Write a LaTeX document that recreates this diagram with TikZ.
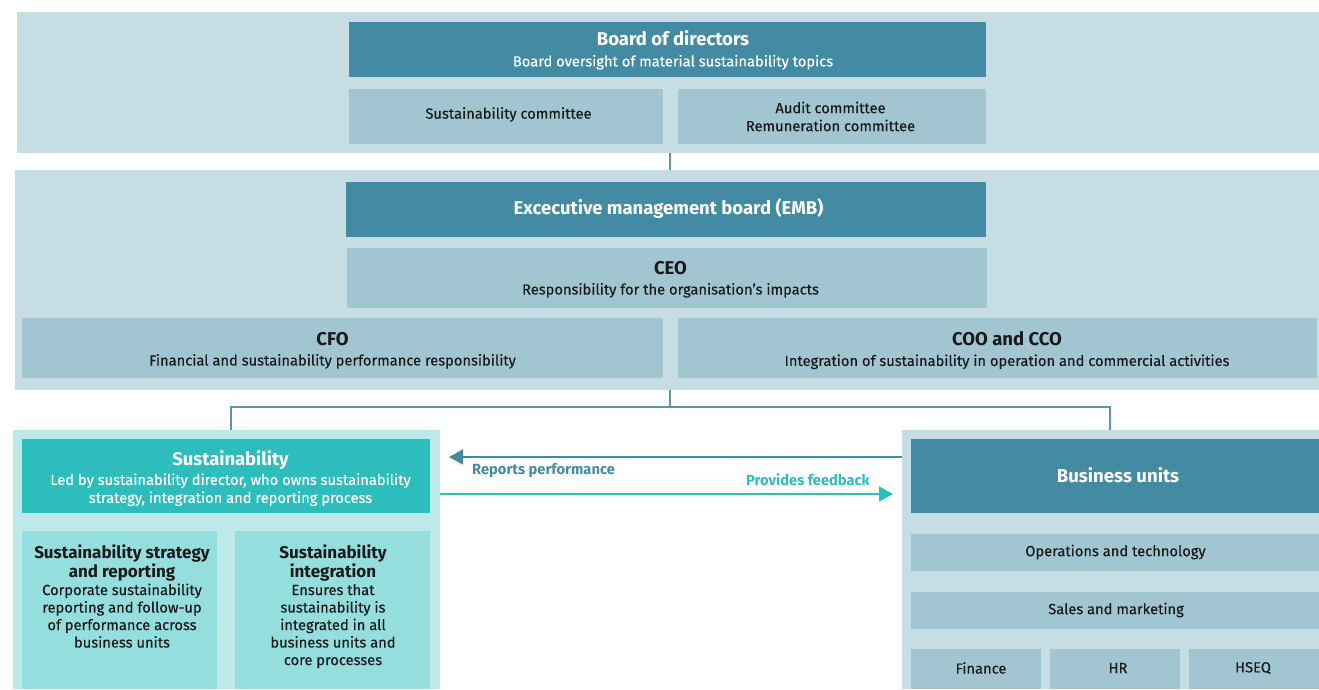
\documentclass[tikz,border=0pt]{standalone}
\usepackage{fontspec}
\setmainfont{Fira Sans}[UprightFeatures={FakeBold=0.3}]
\usetikzlibrary{arrows.meta}
\definecolor{dk}{HTML}{438BA3}
\definecolor{md}{HTML}{A2C6D1}
\definecolor{lt}{HTML}{C6DEE3}
\definecolor{tl}{HTML}{2EBDBD}
\definecolor{ltl}{HTML}{BEE9E9}
\definecolor{mtl}{HTML}{95DEDE}
\definecolor{txt}{HTML}{1A1A1A}
\tikzset{
  bx/.style n args={2}{draw=none,inner sep=0pt,minimum width=#1pt,minimum height=#2pt},
  panel/.style={fill=lt},
  darkbox/.style={fill=dk},
  midbox/.style={fill=md},
  tpanel/.style={fill=ltl},
  tbox/.style={fill=mtl},
  conn/.style={draw=dk!90,line width=1.3pt},
  tx/.style={inner sep=0pt,align=center,text=txt,font=\fontsize{14.7}{#1}\selectfont},
  wtx/.style={tx=#1,text=white},
  subtxt/.style={anchor=north,inner sep=0pt,align=center,text=txt,font=\fontsize{14.7}{17.5}\selectfont},
}
\newcommand\ttl[1]{{\bfseries\fontsize{18.5}{20}\selectfont #1}}
\newcommand\stl[1]{{\bfseries\fontsize{17}{20}\selectfont #1}}
\begin{document}
\begin{tikzpicture}[x=1pt,y=-1pt]
\useasboundingbox (0,0) rectangle (1319,689);
% top panel
\node[bx={1302}{141},panel] (tp) at (668,82.5) {};
\node[bx={637}{55},darkbox] (bod) at (667.5,49.5) {};
\node[bx={314}{55},midbox] (sc) at (506,116.5) {};
\node[bx={308}{55},midbox] (ac) at (832,116.5) {};
\node[wtx=21] (bodt) at (673,50) {\ttl{Board of directors}\\Board oversight of material sustainability topics};
\node[tx=18] (sct) at (508.5,114.5) {Sustainability committee};
\node[tx=18] (act) at (830.5,116.5) {Audit committee\\Remuneration committee};
% EMB panel
\node[bx={1304}{220},panel] (ep) at (667,280) {};
\node[bx={640}{55},darkbox] (emb) at (666,209.5) {};
\node[bx={640}{60},midbox] (ceo) at (667,278) {};
\node[bx={641}{60},midbox] (cfo) at (342.5,348) {};
\node[bx={639}{60},midbox] (coo) at (997.5,348) {};
\node[wtx=20] (embt) at (668.5,208.5) {\ttl{Excecutive management board (EMB)}};
\node[tx=20] (ceot) at (670.5,279.5) {\ttl{CEO}\\Responsibility for the organisation’s impacts};
\node[tx=20] (cfot) at (332.5,350.5) {\ttl{CFO}\\Financial and sustainability performance responsibility};
\node[tx=20] (coot) at (1007,350.5) {\ttl{COO and CCO}\\Integration of sustainability in operation and commercial activities};
% connectors
\coordinate (cx) at (670,0);
\coordinate (sx) at (231,0);
\coordinate (bux) at (1110,0);
\draw[conn] (tp.south -| cx) -- (ep.north -| cx);
% sustainability panel
\node[bx={427}{259},tpanel] (sp) at (226.5,559.5) {};
\node[bx={408}{74},fill=tl] (sh) at (226,476) {};
\node[wtx=18] (sht) at (230.5,478.5) {{\bfseries\fontsize{18.4}{20}\selectfont Sustainability}\\[1pt]Led by sustainability director, who owns sustainability\\strategy, integration and reporting process};
\node[bx={195}{158},tbox] (ssr) at (119.5,610) {};
\node[bx={195}{158},tbox] (si) at (332.5,610) {};
\node[subtxt] (ssrt) at (122,544.5) {\stl{Sustainability strategy}\\[0.5pt]\stl{and reporting}\\[0pt]Corporate sustainability\\reporting and follow-up\\of performance across\\business units};
\node[subtxt] (sit) at (333,544.5) {\stl{Sustainability}\\[0.5pt]\stl{integration}\\[0pt]Ensures that\\sustainability is\\integrated in all\\business units and\\core processes};
% business panel
\node[bx={417}{259},panel] (bp) at (1110.5,559.5) {};
\node[bx={408}{74},darkbox] (bh) at (1115,476) {};
\node[bx={408}{37},midbox] (ops) at (1115,552.5) {};
\node[bx={408}{37},midbox] (sal) at (1115,610.5) {};
\node[bx={130}{40},midbox] (fin) at (976,669) {};
\node[bx={130}{40},midbox] (hr) at (1115,669) {};
\node[bx={130}{40},midbox] (hseq) at (1254,669) {};
\node[wtx=20,font=\bfseries\fontsize{18.6}{20}\selectfont] (bht) at (1118,475) {Business units};
\node[tx=18] (opst) at (1115.5,552) {Operations and technology};
\node[tx=18] (salt) at (1116,610) {Sales and marketing};
\node[tx=18] (fint) at (981,668) {Finance};
\node[tx=18] (hrt) at (1118,668) {HR};
\node[tx=18] (hseqt) at (1253,668) {HSEQ};
% tree
\coordinate (jn) at (670,407);
\draw[conn] (ep.south -| cx) -- (jn);
\draw[conn] (jn) -| (sp.north -| sx);
\draw[conn] (jn) -| (bp.north -| bux);
% arrows
\coordinate (rp) at (449,457);
\coordinate (fb) at (893,494);
\draw[draw=dk,line width=1.5pt,-{Triangle[length=14pt,width=15pt]}] (bp.west |- rp) -- (rp);
\draw[draw=tl,line width=1.5pt,-{Triangle[length=14pt,width=15pt]}] (sp.east |- fb) -- (fb);
\node[anchor=west,text=dk,font=\bfseries\fontsize{14.7}{16}\selectfont,inner sep=0pt] (rpl) at (472,471) {Reports performance};
\node[anchor=east,text=tl,font=\bfseries\fontsize{14.7}{16}\selectfont,inner sep=0pt] (fbl) at (870,480) {Provides feedback};
\end{tikzpicture}
\end{document}
